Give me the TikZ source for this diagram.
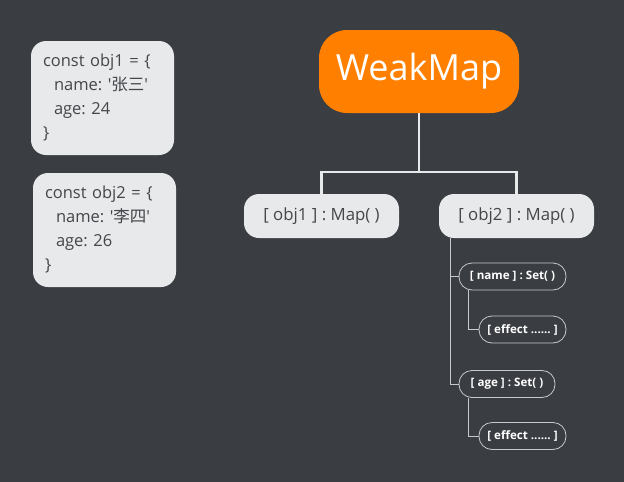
\documentclass[tikz,border=0pt]{standalone}
\usepackage{fontspec}
\setmainfont{Open Sans}
\newfontfamily\cjk{Noto Sans CJK SC}
\definecolor{bgdark}{RGB}{58,61,66}
\definecolor{boxgray}{RGB}{232,233,235}
\definecolor{txtgray}{RGB}{68,70,74}
\definecolor{wmorange}{RGB}{255,128,0}
\definecolor{thinline}{RGB}{200,201,203}
\newcommand{\sq}{\textquotesingle}
\frenchspacing
\begin{document}
\begin{tikzpicture}[x=1pt,y=-1pt,
  objbox/.style={fill=boxgray,rounded corners=15pt,minimum width=143pt,minimum height=114pt,
    text width=119pt,inner xsep=12pt,align=left,text=txtgray,font=\fontsize{16.5}{24}\selectfont},
  mapbox/.style={fill=boxgray,rounded corners=15pt,minimum width=155pt,minimum height=44pt,
    text=txtgray,font=\fontsize{16.8}{18}\selectfont},
  setbox/.style={draw=thinline,line width=0.8pt,fill=bgdark,rounded corners=13pt,minimum height=27pt,
    text=white,font=\fontsize{11.6}{13}\selectfont\bfseries},
  trunk/.style={draw=boxgray,line width=2.5pt},
  twig/.style={draw=thinline,line width=0.9pt}]
  \fill[bgdark] (0,0) rectangle (624,482);
  \useasboundingbox (0,0) rectangle (624,482);

  \node[objbox] (o1) at (102.5,98) {const obj1 = \{\\\hspace{11pt}name: \sq{\cjk 张三}\sq\\\hspace{11pt}age: 24\\\}};
  \node[objbox] (o2) at (104.5,230) {const obj2 = \{\\\hspace{11pt}name: \sq{\cjk 李四}\sq\\\hspace{11pt}age: 26\\\}};

  \node[fill=wmorange,rounded corners=28pt,minimum width=200pt,minimum height=83pt,
    text=white,font=\fontsize{36}{40}\selectfont] (wm) at (419,71.5) {WeakMap};

  \node[mapbox] (m1) at (321.5,216) {[ obj1 ] : Map( )};
  \node[mapbox] (m2) at (516.5,216) {[ obj2 ] : Map( )};

  \coordinate (split) at (419,172);
  \draw[trunk] (wm.south) to (split);
  \draw[trunk] (split) -| (m1.north);
  \draw[trunk] (split) -| (m2.north);

  \node[setbox,minimum width=107pt] (nm) at (512.5,276.5) {[ name ] : Set( )};
  \node[setbox,minimum width=87pt] (ef1) at (522.5,329.5) {[ effect ...... ]};
  \node[setbox,minimum width=96pt] (ag) at (507,384) {[ age ] : Set( )};
  \node[setbox,minimum width=87pt] (ef2) at (522.5,436) {[ effect ...... ]};

  \coordinate (m2root) at (450,238);
  \coordinate (nmroot) at (468,290);
  \coordinate (agroot) at (468,398);
  \draw[twig] (m2root) |- (nm.west);
  \draw[twig] (m2root) |- (ag.west);
  \draw[twig] (nmroot) |- (ef1.west);
  \draw[twig] (agroot) |- (ef2.west);
\end{tikzpicture}
\end{document}
